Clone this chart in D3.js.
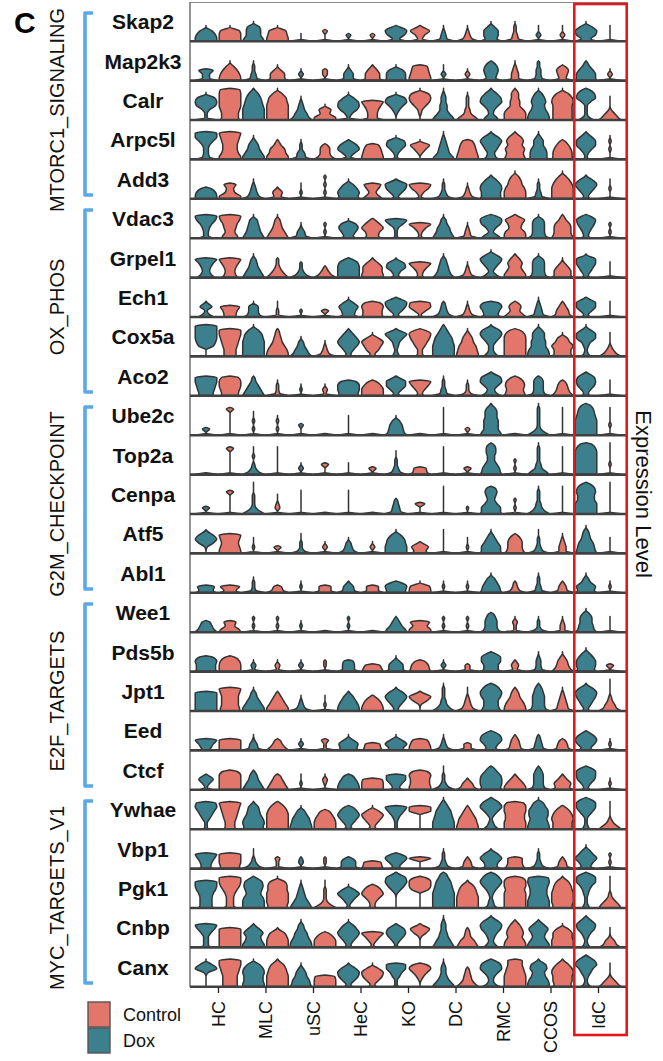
<!DOCTYPE html>
<html><head><meta charset="utf-8">
<script src="https://cdn.jsdelivr.net/npm/d3@7"></script>
<style>
body{margin:0;background:#fff}
svg{display:block}
text{font-family:"Liberation Sans",Arial,Helvetica,sans-serif}
</style>
</head><body>
<svg id="chart" width="663" height="1061"></svg>
<script>
// ---------------- DATA ----------------
const cellTypes = ["HC","MLC","uSC","HeC","KO","DC","RMC","CCOS","IdC"];
const groups = ["Dox","Control"];          // dodge order inside each cell type
const legendLabels = ["Control","Dox"];
const pathwayNames = ["MTORC1_SIGNALING","OX_PHOS","G2M_CHECKPOINT","E2F_TARGETS","MYC_TARGETS_V1"];
const highlightCell = "IdC";

const mtorc1Genes = ["Skap2","Map2k3","Calr","Arpc5l","Add3"];
const oxphosGenes = ["Vdac3","Grpel1","Ech1","Cox5a","Aco2"];
const g2mGenes = ["Ube2c","Top2a","Cenpa","Atf5","Abl1"];
const e2fGenes = ["Wee1","Pds5b","Jpt1","Eed","Ctcf"];
const mycGenes = ["Ywhae","Vbp1","Pgk1","Cnbp","Canx"];

// Violin density profiles.
// One string per gene: 18 codes = (Dox, Control) for each cell type in order.
// Each digit = relative density (violin half-width, 0-9) at successive expression levels, bottom -> top.
const mtorc1Violins = [
  "99850 99980 986650 99870 900 9002 902 902 93793 92482 93210 94210 956630 932110 90200 90200 948950 90000",
  "9336 998630 932110 96630 9020 9022 94420 96641 98860 99876 90200 9020 945652 933210 932211 93452 988631 9020",
  "91138970 877899998 999987641 999998740 9753210 99450 91379840 944579 00136970 001258970 985332210 97321110 652369851 999744331 998656530 888889850 631114873 9741000",
  "83223699 99766789 9975420 997631 943110 96442 725972 99875 3125870 002580 98543210 998764 74357961 98786751 87764420 988752 21258851 9001010",
  "9984 99435 953210 9341 90100 9010101 989740 86357 325892 31379 942110 94210 9889851 99986530 932110 99998630 3247961 900100"
];
const oxphosViolins = [
  "6223589 7645689 9865430 9864320 94310 90101 646860 756962 211269 31259 9865320 93210 8624894 9985682 9655540 9877631 4235783 90101",
  "753469 754579 9864320 974211 95211 9631 999983 998851 424871 32369 9754320 94210 85247950 9975641 9655540 977520 3246881 90000",
  "63151 5568 85440 91100 901 903 856840 98896 325893 21598 95321 94210 86796 97452 943210 96531 325882 90000",
  "000689999 55567899 999998740 99864321 975320 94210 32479741 3257950 32123692 42246894 999987531 99875420 642247971 99999984 998665530 9779640 421248840 9631000",
  "667899 778997 986421 92110 9010 9120 88996 99973 325882 32479 932110 93110 8536982 987873 954442 97542 3247872 90000"
];
const g2mViolins = [
  "903 90000003 9010100 901010 9002 9 900000 9 976530 9 90000000 902 986665541 9 962111110 90000000 999998763 90010000",
  "9 90000003 95210100 90000000 9020 9003 9000 903 9421100 965 90000000 903 987533442 90101 973211110 90000000 999999985 900100000",
  "903 9000003 962111000 902100 9000000 9 9000000 9 94321 9004 90000000 901 98853453 90101 96321110 90000000 999977873 900000000",
  "0016961 998789 90100 903 931100 9020 95320 9020 9998740 7572 9000000 90100 9886420 976652 9421100 933210 98764320 90000",
  "867 858 92110 953 9010 955 9541 955 8894 9980 9010 9010 987530 9421 932110 9431 978420 9010"
];
const e2fViolins = [
  "9753 9845 90101 90101 9010 9 90101 9 98531 9968 90101 90101 965542 91120 93110 92210 9765530 90000",
  "98896 99984 9120 9120 9020 9011 9554 986 96630 9874 9020 922 966883 9231 932210 975420 9788630 903",
  "999999 8877789 9975320 997531 94210 90100 998641 99862 2247961 001692 96321110 9532100 87668973 9986431 96555431 9543210 32468961 964210000",
  "3469 9999 94310 9742 9020 9113 87840 876 76950 9986 94210 933 646983 95431 94321 9542 647972 9010",
  "51362 999996 986431 98642 90100 90120 99863 9998 53588 998896 9521100 9641 9899852 99741 9544431 96741 3247883 9010"
];
const mycViolins = [
  "21135798 54456789 98986541 99999862 9987530 999863 4247973 4247950 1112479 0000099 999876420 9987531 642136972 99988997 998788640 8889862 321136883 97310000",
  "54579 88999 952100 9112 9021 9011 9663 987 43694 0009 942110 9431 856961 9766 942110 9431 7469630 90101",
  "65556899 533346899 999867872 889998860 98643210 96211100 2136950 3236973 0000147982 000007995 9999987642 99998751 5321247973 999998996 999877898 889998751 3211235883 985210000",
  "4222479 999999 9976851 999861 99865320 99973 32479740 21369 2136872 0001582 986432210 986321 642358961 99867641 99756851 9998850 421247851 964100",
  "00002950 66667899 99889850 99998751 9875420 9998 3258961 3258950 2113588 0013695 98532210 974321 74236983 99998766 99865761 87889851 421246972 9741000"
];

const pathwayGenes = [mtorc1Genes, oxphosGenes, g2mGenes, e2fGenes, mycGenes];
const pathwayViolins = [mtorc1Violins, oxphosViolins, g2mViolins, e2fViolins, mycViolins];

// ---------------- CHART ----------------
const genes = [].concat(...pathwayGenes);
const violins = [].concat(...pathwayViolins);

const svg = d3.select("#chart");
svg.append("rect").attr("width",663).attr("height",1061).attr("fill","#fff");

const plotLeft = 190, plotRight = 627, plotTop = 2, plotBottom = 987;
const yRow = d3.scaleBand().domain(genes).range([plotTop, plotBottom]);
const x = d3.scalePoint().domain(cellTypes).range([189.5, 626.5]).padding(0.6);
const dodge = d3.scaleBand().domain(groups).range([-24, 24]);
const halfWidth = d3.scaleLinear().domain([0, 9]).range([0, 10.8]);
const levelScale = d3.scaleLinear().domain([1, 2]).range([2, 6]);
const levelH = i => i === 0 ? 0 : levelScale(i);
const color = d3.scaleOrdinal().domain(["Control","Dox"]).range(["#e2766a","#3b808c"]);

// panel frame
svg.append("line").attr("x1",plotLeft).attr("x2",plotRight).attr("y1",plotTop+0.5).attr("y2",plotTop+0.5)
  .attr("stroke","#8a8a8a").attr("stroke-width",1.2);
svg.append("line").attr("x1",plotLeft).attr("x2",plotLeft).attr("y1",plotTop).attr("y2",plotBottom)
  .attr("stroke","#666").attr("stroke-width",1.4);
svg.append("line").attr("x1",plotRight).attr("x2",plotRight).attr("y1",plotTop).attr("y2",plotBottom)
  .attr("stroke","#777").attr("stroke-width",1.3);

const area = d3.area().curve(d3.curveMonotoneY).y(d => d.y).x0(d => d.x0).x1(d => d.x1);

const gV = svg.append("g");
genes.forEach((g, gi) => {
  const codes = violins[gi].split(" ");
  const base = yRow(g) + yRow.bandwidth() - 0.5;
  cellTypes.forEach((ct, ci) => {
    groups.forEach((grp, k) => {
      const code = codes[ci * 2 + k];
      const cx = x(ct) + dodge(grp) + dodge.bandwidth() / 2;
      const pts = code.split("").map((c, i) => ({h: levelH(i), w: halfWidth(+c)}));
      pts.push({h: pts[pts.length - 1].h + 1.5, w: 0});
      const data = pts.reverse().map(p => ({y: base - p.h, x0: cx - p.w, x1: cx + p.w}));
      gV.append("path").attr("d", area(data))
        .attr("fill", color(grp)).attr("stroke", "#333").attr("stroke-width", 1.5)
        .attr("stroke-linejoin","round");
    });
  });
  // row baseline
  svg.append("line").attr("x1", plotLeft).attr("x2", plotRight)
    .attr("y1", base + 0.3).attr("y2", base + 0.3)
    .attr("stroke", "#404040").attr("stroke-width", 2.6);
  // gene label
  svg.append("text").attr("x", 143).attr("y", yRow(g) + yRow.bandwidth() / 2)
    .attr("text-anchor","middle").attr("dominant-baseline","central")
    .attr("font-size", 21).attr("font-weight","bold").attr("fill","#111").text(g);
});

// pathway brackets + labels
pathwayGenes.forEach((list, pi) => {
  const top = yRow(list[0]) + 11;
  const bottom = yRow(list[list.length - 1]) + yRow.bandwidth() - 4;
  svg.append("path").attr("d", `M93,${top}H85V${bottom}H93`)
    .attr("fill","none").attr("stroke","#5ca8e6").attr("stroke-width",3.6).attr("stroke-linejoin","round");
  const cy = (top + bottom) / 2 + 6;
  svg.append("text").attr("transform", `translate(57,${cy}) rotate(-90)`)
    .attr("text-anchor","middle").attr("dominant-baseline","central")
    .attr("font-size", 20).attr("fill","#111").text(pathwayNames[pi]);
});

// x axis
const axis = svg.append("g").attr("transform", `translate(0,${plotBottom})`)
  .call(d3.axisBottom(x).tickSize(6).tickSizeOuter(0));
axis.select(".domain").remove();
axis.selectAll(".tick line").attr("stroke","#222").attr("stroke-width",1.3);
axis.selectAll(".tick text").attr("transform","rotate(-90)")
  .attr("x", -14).attr("y", 0).attr("dy","0.35em")
  .attr("text-anchor","end").attr("font-size", 18).attr("fill","#111")
  .style("font-family",'"Liberation Sans",Arial,sans-serif');

// highlight box
const hx = x(highlightCell);
svg.append("rect").attr("x", hx - 23.7).attr("y", 4).attr("width", 52.4).attr("height", 1031)
  .attr("fill","none").attr("stroke","#e3191c").attr("stroke-width",2.6);

// right-side title
svg.append("text").attr("transform","translate(643,494) rotate(90)")
  .attr("text-anchor","middle").attr("dominant-baseline","central")
  .attr("font-size", 22).attr("fill","#111").text("Expression Level");

// panel letter
svg.append("text").attr("x", 14).attr("y", 33).attr("font-size", 30).attr("font-weight","bold")
  .attr("fill","#000").text("C");

// legend
legendLabels.forEach((lab, i) => {
  svg.append("rect").attr("x", 88).attr("y", 1002 + i * 26).attr("width", 22).attr("height", 25)
    .attr("fill", color(lab)).attr("stroke","#555").attr("stroke-width",1.4);
  svg.append("text").attr("x", 123).attr("y", 1015 + i * 26).attr("dominant-baseline","central")
    .attr("font-size", 18).attr("fill","#111").text(lab);
});
</script>
</body></html>
